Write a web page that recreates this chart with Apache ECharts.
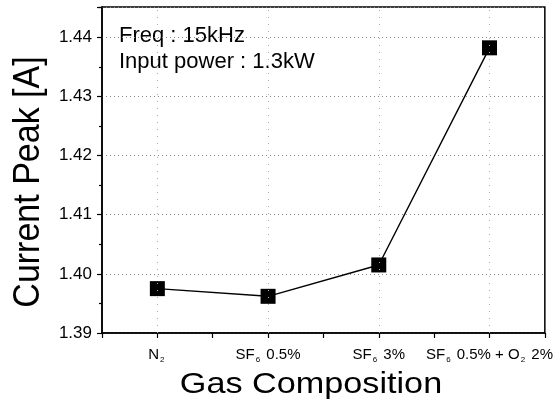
<!DOCTYPE html>
<html>
<head>
<meta charset="utf-8">
<script src="https://cdn.jsdelivr.net/npm/echarts@6/dist/echarts.min.js"></script>
<style>html,body{margin:0;padding:0;background:#fff}#c{width:556px;height:405px}</style>
</head>
<body>
<div id="c"></div>
<script>
var categories = ['N{s|2}', 'SF{s|6} 0.5%', 'SF{s|6} 3%', 'SF{s|6} 0.5% + O{s|2} 2%'];
var currentPeak = [1.3975, 1.3962, 1.4015, 1.4382];
var yTicks = [1.39, 1.40, 1.41, 1.42, 1.43, 1.44];
var annotations = ['Freq : 15kHz', 'Input power : 1.3kW'];
var xTitle = 'Gas Composition';
var yTitle = 'Current Peak [A]';

var FONT = '"Liberation Sans", Arial, sans-serif';
var chart = echarts.init(document.getElementById('c'), null, {renderer: 'canvas'});
var pts = currentPeak.map(function (v, i) { return [i + 1, v]; });

chart.setOption({
  animation: false,
  backgroundColor: '#fff',
  grid: {left: 102, right: 11, top: 7, bottom: 72, show: true, borderColor: '#000', borderWidth: 1.5, backgroundColor: 'transparent'},
  xAxis: {
    type: 'value', min: 0.5, max: categories.length + 0.5, interval: 0.5,
    axisLine: {show: true, lineStyle: {color: '#000', width: 1.5}},
    axisTick: {show: true, inside: false, length: 5, lineStyle: {color: '#000', width: 1.2}},
    axisLabel: {
      margin: 13, color: '#000', fontFamily: FONT, fontSize: 15,
      showMinLabel: true, showMaxLabel: true,
      formatter: function (v) {
        var r = Math.round(v);
        if (Math.abs(v - r) < 1e-6 && r >= 1 && r <= categories.length) return categories[r - 1];
        return '';
      },
      rich: {s: {fontSize: 8, fontFamily: FONT, color: '#000', padding: [10, 2, 0, 1]}}
    },
    splitLine: {show: false}
  },
  yAxis: {
    type: 'value', min: yTicks[0], max: 1.4451, interval: 0.01,
    axisLine: {show: true, lineStyle: {color: '#000', width: 1.5}},
    axisTick: {show: true, inside: false, length: 5, lineStyle: {color: '#000', width: 1.2}},
    minorTick: {show: true, splitNumber: 2, length: 3, lineStyle: {color: '#000', width: 1.2}},
    axisLabel: {margin: 10, color: '#000', fontFamily: FONT, fontSize: 17,
      formatter: function (v) { return v.toFixed(2); }, showMaxLabel: false},
    splitLine: {show: true, lineStyle: {color: '#888', type: [1, 3], width: 1}}
  },
  graphic: [
    {type: 'text', left: 119, top: 25, style: {text: annotations[0], font: '22px ' + FONT, fill: '#000'}},
    {type: 'text', left: 119, top: 51, style: {text: annotations[1], font: '22px ' + FONT, fill: '#000'}},
    {type: 'text', x: 311, y: 385, scaleX: 1.14,
      style: {text: xTitle, font: '30px ' + FONT, fill: '#000', align: 'center', verticalAlign: 'middle'}},
    {type: 'text', x: 29, y: 182, rotation: Math.PI / 2, scaleY: 1.07,
      style: {text: yTitle, font: '34px ' + FONT, fill: '#000', align: 'center', verticalAlign: 'middle'}}
  ],
  series: [{
    type: 'line', data: pts, symbol: 'rect', symbolSize: 15,
    itemStyle: {color: '#000'}, lineStyle: {color: '#000', width: 1.4},
    markLine: {
      silent: true, symbol: 'none', label: {show: false},
      lineStyle: {color: '#aaa', type: [1, 6], width: 1},
      data: pts.map(function (p) { return {xAxis: p[0]}; })
    }
  }]
});
</script>
</body>
</html>
